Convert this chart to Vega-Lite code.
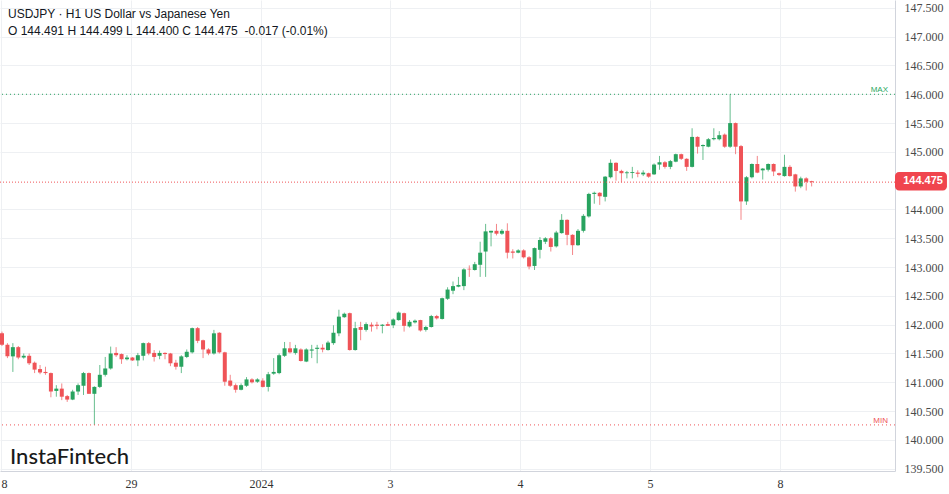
{
  "$schema": "https://vega.github.io/schema/vega-lite/v6.json",
  "width": 895,
  "height": 471,
  "autosize": {"type": "none"},
  "padding": {"left": 0, "top": 0, "right": 54, "bottom": 23},
  "background": "#ffffff",
  "config": {"view": {"stroke": null}, "font": "Liberation Sans"},
  "datasets": {
    "candles": [
      {"i":0,"o":141.85,"h":141.88,"l":141.63,"c":141.65},
      {"i":1,"o":141.65,"h":141.68,"l":141.42,"c":141.45},
      {"i":2,"o":141.45,"h":141.68,"l":141.18,"c":141.61},
      {"i":3,"o":141.61,"h":141.63,"l":141.40,"c":141.43},
      {"i":4,"o":141.43,"h":141.50,"l":141.41,"c":141.46},
      {"i":5,"o":141.46,"h":141.50,"l":141.30,"c":141.33},
      {"i":6,"o":141.34,"h":141.36,"l":141.16,"c":141.22},
      {"i":7,"o":141.23,"h":141.30,"l":141.14,"c":141.17},
      {"i":8,"o":141.18,"h":141.27,"l":141.13,"c":141.16},
      {"i":9,"o":141.16,"h":141.17,"l":140.74,"c":140.84},
      {"i":10,"o":140.85,"h":140.95,"l":140.75,"c":140.89},
      {"i":11,"o":140.89,"h":140.98,"l":140.69,"c":140.75},
      {"i":12,"o":140.76,"h":140.78,"l":140.66,"c":140.70},
      {"i":13,"o":140.70,"h":140.87,"l":140.69,"c":140.84},
      {"i":14,"o":140.84,"h":140.98,"l":140.78,"c":140.95},
      {"i":15,"o":140.94,"h":141.18,"l":140.78,"c":141.16},
      {"i":16,"o":141.16,"h":141.17,"l":140.80,"c":140.80},
      {"i":17,"o":140.80,"h":140.93,"l":140.26,"c":140.92},
      {"i":18,"o":140.92,"h":141.30,"l":140.90,"c":141.13},
      {"i":19,"o":141.13,"h":141.44,"l":141.10,"c":141.24},
      {"i":20,"o":141.24,"h":141.62,"l":141.22,"c":141.50},
      {"i":21,"o":141.51,"h":141.61,"l":141.44,"c":141.47},
      {"i":22,"o":141.49,"h":141.50,"l":141.32,"c":141.40},
      {"i":23,"o":141.40,"h":141.47,"l":141.38,"c":141.43},
      {"i":24,"o":141.43,"h":141.44,"l":141.37,"c":141.38},
      {"i":25,"o":141.38,"h":141.51,"l":141.28,"c":141.47},
      {"i":26,"o":141.46,"h":141.69,"l":141.38,"c":141.68},
      {"i":27,"o":141.68,"h":141.70,"l":141.47,"c":141.50},
      {"i":28,"o":141.51,"h":141.56,"l":141.36,"c":141.44},
      {"i":29,"o":141.46,"h":141.55,"l":141.40,"c":141.51},
      {"i":30,"o":141.51,"h":141.52,"l":141.40,"c":141.49},
      {"i":31,"o":141.50,"h":141.51,"l":141.28,"c":141.33},
      {"i":32,"o":141.34,"h":141.39,"l":141.22,"c":141.27},
      {"i":33,"o":141.27,"h":141.47,"l":141.16,"c":141.45},
      {"i":34,"o":141.44,"h":141.57,"l":141.42,"c":141.53},
      {"i":35,"o":141.52,"h":141.95,"l":141.50,"c":141.94},
      {"i":36,"o":141.94,"h":141.96,"l":141.68,"c":141.72},
      {"i":37,"o":141.73,"h":141.74,"l":141.42,"c":141.57},
      {"i":38,"o":141.57,"h":141.59,"l":141.47,"c":141.50},
      {"i":39,"o":141.50,"h":141.91,"l":141.48,"c":141.85},
      {"i":40,"o":141.86,"h":141.87,"l":141.50,"c":141.52},
      {"i":41,"o":141.52,"h":141.53,"l":140.94,"c":141.01},
      {"i":42,"o":141.03,"h":141.13,"l":140.92,"c":140.94},
      {"i":43,"o":140.95,"h":140.98,"l":140.82,"c":140.87},
      {"i":44,"o":140.87,"h":140.98,"l":140.86,"c":140.95},
      {"i":45,"o":140.94,"h":141.09,"l":140.92,"c":141.05},
      {"i":46,"o":141.05,"h":141.07,"l":140.98,"c":141.00},
      {"i":47,"o":141.01,"h":141.07,"l":140.99,"c":141.05},
      {"i":48,"o":141.03,"h":141.07,"l":140.91,"c":140.92},
      {"i":49,"o":140.92,"h":141.18,"l":140.84,"c":141.14},
      {"i":50,"o":141.15,"h":141.42,"l":141.13,"c":141.18},
      {"i":51,"o":141.16,"h":141.50,"l":141.14,"c":141.47},
      {"i":52,"o":141.46,"h":141.70,"l":141.44,"c":141.59},
      {"i":53,"o":141.59,"h":141.70,"l":141.50,"c":141.52},
      {"i":54,"o":141.51,"h":141.65,"l":141.48,"c":141.59},
      {"i":55,"o":141.57,"h":141.59,"l":141.36,"c":141.37},
      {"i":56,"o":141.36,"h":141.59,"l":141.35,"c":141.57},
      {"i":57,"o":141.55,"h":141.65,"l":141.42,"c":141.57},
      {"i":58,"o":141.58,"h":141.65,"l":141.33,"c":141.60},
      {"i":59,"o":141.60,"h":141.66,"l":141.52,"c":141.57},
      {"i":60,"o":141.56,"h":141.72,"l":141.55,"c":141.69},
      {"i":61,"o":141.68,"h":141.99,"l":141.65,"c":141.86},
      {"i":62,"o":141.85,"h":142.26,"l":141.80,"c":142.14},
      {"i":63,"o":142.13,"h":142.21,"l":142.12,"c":142.19},
      {"i":64,"o":142.20,"h":142.21,"l":141.55,"c":141.56},
      {"i":65,"o":141.56,"h":142.05,"l":141.55,"c":141.94},
      {"i":66,"o":141.96,"h":142.05,"l":141.73,"c":141.91},
      {"i":67,"o":141.91,"h":142.04,"l":141.88,"c":142.01},
      {"i":68,"o":142.00,"h":142.04,"l":141.88,"c":141.97},
      {"i":69,"o":142.00,"h":142.05,"l":141.92,"c":141.98},
      {"i":70,"o":141.98,"h":142.01,"l":141.85,"c":142.00},
      {"i":71,"o":142.01,"h":142.05,"l":141.98,"c":141.98},
      {"i":72,"o":141.99,"h":142.11,"l":141.94,"c":142.09},
      {"i":73,"o":142.08,"h":142.23,"l":142.07,"c":142.21},
      {"i":74,"o":142.20,"h":142.21,"l":141.88,"c":141.98},
      {"i":75,"o":141.97,"h":142.08,"l":141.95,"c":142.05},
      {"i":76,"o":142.04,"h":142.09,"l":142.02,"c":142.07},
      {"i":77,"o":142.08,"h":142.085,"l":141.88,"c":141.90},
      {"i":78,"o":141.91,"h":141.98,"l":141.88,"c":141.96},
      {"i":79,"o":141.96,"h":142.17,"l":141.95,"c":142.15},
      {"i":80,"o":142.15,"h":142.17,"l":142.09,"c":142.11},
      {"i":81,"o":142.10,"h":142.47,"l":142.09,"c":142.46},
      {"i":82,"o":142.45,"h":142.65,"l":142.43,"c":142.61},
      {"i":83,"o":142.59,"h":142.75,"l":142.53,"c":142.67},
      {"i":84,"o":142.66,"h":142.83,"l":142.65,"c":142.69},
      {"i":85,"o":142.67,"h":142.98,"l":142.60,"c":142.96},
      {"i":86,"o":142.97,"h":143.03,"l":142.83,"c":142.96},
      {"i":87,"o":142.95,"h":143.09,"l":142.94,"c":143.05},
      {"i":88,"o":143.04,"h":143.44,"l":142.83,"c":143.25},
      {"i":89,"o":143.27,"h":143.75,"l":142.83,"c":143.62},
      {"i":90,"o":143.60,"h":143.63,"l":143.36,"c":143.63},
      {"i":91,"o":143.63,"h":143.75,"l":143.55,"c":143.58},
      {"i":92,"o":143.58,"h":143.66,"l":143.56,"c":143.63},
      {"i":93,"o":143.63,"h":143.76,"l":143.15,"c":143.25},
      {"i":94,"o":143.27,"h":143.31,"l":143.15,"c":143.25},
      {"i":95,"o":143.25,"h":143.31,"l":143.24,"c":143.29},
      {"i":96,"o":143.29,"h":143.31,"l":143.15,"c":143.17},
      {"i":97,"o":143.17,"h":143.19,"l":142.96,"c":143.01},
      {"i":98,"o":143.02,"h":143.34,"l":142.95,"c":143.33},
      {"i":99,"o":143.30,"h":143.52,"l":143.15,"c":143.47},
      {"i":100,"o":143.44,"h":143.52,"l":143.40,"c":143.50},
      {"i":101,"o":143.50,"h":143.52,"l":143.27,"c":143.35},
      {"i":102,"o":143.36,"h":143.63,"l":143.34,"c":143.60},
      {"i":103,"o":143.59,"h":143.92,"l":143.58,"c":143.82},
      {"i":104,"o":143.82,"h":143.83,"l":143.38,"c":143.56},
      {"i":105,"o":143.56,"h":143.57,"l":143.21,"c":143.38},
      {"i":106,"o":143.38,"h":143.66,"l":143.37,"c":143.63},
      {"i":107,"o":143.63,"h":143.92,"l":143.60,"c":143.89},
      {"i":108,"o":143.88,"h":144.29,"l":143.86,"c":144.27},
      {"i":109,"o":144.27,"h":144.31,"l":144.10,"c":144.29},
      {"i":110,"o":144.29,"h":144.30,"l":144.08,"c":144.23},
      {"i":111,"o":144.22,"h":144.58,"l":144.14,"c":144.57},
      {"i":112,"o":144.56,"h":144.87,"l":144.54,"c":144.81},
      {"i":113,"o":144.81,"h":144.82,"l":144.50,"c":144.67},
      {"i":114,"o":144.67,"h":144.69,"l":144.47,"c":144.63},
      {"i":115,"o":144.63,"h":144.67,"l":144.54,"c":144.645},
      {"i":116,"o":144.635,"h":144.74,"l":144.54,"c":144.65},
      {"i":117,"o":144.64,"h":144.68,"l":144.56,"c":144.62},
      {"i":118,"o":144.61,"h":144.68,"l":144.58,"c":144.64},
      {"i":119,"o":144.63,"h":144.64,"l":144.55,"c":144.57},
      {"i":120,"o":144.61,"h":144.80,"l":144.60,"c":144.78},
      {"i":121,"o":144.78,"h":144.93,"l":144.69,"c":144.82},
      {"i":122,"o":144.82,"h":144.84,"l":144.71,"c":144.74},
      {"i":123,"o":144.74,"h":144.86,"l":144.70,"c":144.84},
      {"i":124,"o":144.83,"h":144.97,"l":144.82,"c":144.96},
      {"i":125,"o":144.96,"h":144.97,"l":144.86,"c":144.88},
      {"i":126,"o":144.88,"h":144.89,"l":144.67,"c":144.74},
      {"i":127,"o":144.74,"h":145.41,"l":144.73,"c":145.26},
      {"i":128,"o":145.26,"h":145.27,"l":144.97,"c":145.09},
      {"i":129,"o":145.10,"h":145.13,"l":144.86,"c":145.12},
      {"i":130,"o":145.09,"h":145.24,"l":145.08,"c":145.22},
      {"i":131,"o":145.22,"h":145.41,"l":145.20,"c":145.24},
      {"i":132,"o":145.22,"h":145.36,"l":145.20,"c":145.29},
      {"i":133,"o":145.30,"h":145.32,"l":145.07,"c":145.09},
      {"i":134,"o":145.09,"h":146.00,"l":145.07,"c":145.50},
      {"i":135,"o":145.50,"h":145.51,"l":144.96,"c":145.09},
      {"i":136,"o":145.10,"h":145.12,"l":143.82,"c":144.14},
      {"i":137,"o":144.14,"h":144.58,"l":144.08,"c":144.56},
      {"i":138,"o":144.56,"h":144.80,"l":144.54,"c":144.79},
      {"i":139,"o":144.79,"h":144.93,"l":144.63,"c":144.64},
      {"i":140,"o":144.68,"h":144.72,"l":144.52,"c":144.71},
      {"i":141,"o":144.69,"h":144.80,"l":144.66,"c":144.79},
      {"i":142,"o":144.79,"h":144.80,"l":144.58,"c":144.66},
      {"i":143,"o":144.63,"h":144.64,"l":144.58,"c":144.60},
      {"i":144,"o":144.58,"h":144.95,"l":144.57,"c":144.74},
      {"i":145,"o":144.74,"h":144.77,"l":144.57,"c":144.58},
      {"i":146,"o":144.61,"h":144.62,"l":144.31,"c":144.40},
      {"i":147,"o":144.40,"h":144.57,"l":144.37,"c":144.54},
      {"i":148,"o":144.54,"h":144.56,"l":144.33,"c":144.48},
      {"i":149,"o":144.491,"h":144.499,"l":144.400,"c":144.475}
    ]
  },
  "layer": [
    {
      "data": {"name": "candles"},
      "mark": {"type": "rule", "strokeWidth": 1, "opacity": 0.7, "clip": true},
      "encoding": {
        "x": {
          "field": "i", "type": "quantitative",
          "scale": {"domain": [-0.368, 164.34], "nice": false, "zero": false, "padding": 0},
          "axis": {
            "title": null,
            "values": [-0.184, 23.74, 47.66, 71.4, 95.33, 119.25, 143.17],
            "tickCount": 30,
            "labelExpr": "datum.value < 10 ? '8' : datum.value < 30 ? '29' : datum.value < 60 ? '2024' : datum.value < 80 ? '3' : datum.value < 100 ? '4' : datum.value < 130 ? '5' : '8'",
            "labelAlign": {"condition": {"test": "datum.value < 10", "value": "left"}, "value": "center"},
            "grid": true, "gridColor": "#eef0f3", "gridWidth": 1,
            "ticks": false, "tickSize": 0,
            "domain": true, "domainColor": "#d1d4dc",
            "labelFlush": false, "labelOverlap": false, "labelBound": false,
            "labelFont": "Liberation Sans Narrow", "labelFontSize": 12, "labelColor": "#333333",
            "labelPadding": 7
          }
        },
        "y": {
          "field": "l", "type": "quantitative",
          "scale": {"domain": [139.46, 147.637], "nice": false, "zero": false},
          "axis": {
            "title": null, "orient": "right",
            "values": [139.5, 140, 140.5, 141, 141.5, 142, 142.5, 143, 143.5, 144, 145, 145.5, 146, 146.5, 147, 147.5],
            "tickCount": 40,
            "format": ".3f",
            "grid": true, "gridColor": "#eef0f3", "gridWidth": 1,
            "ticks": false, "tickSize": 0,
            "domain": true, "domainColor": "#d1d4dc",
            "labelFont": "Liberation Sans Narrow", "labelFontSize": 12, "labelColor": "#4a4a4a",
            "labelPadding": 9, "labelFlush": false, "labelOverlap": false, "labelBound": false
          }
        },
        "y2": {"field": "h"},
        "color": {"condition": {"test": "datum.c >= datum.o", "value": "#28a35f"}, "value": "#ef5357"}
      }
    },
    {
      "data": {"name": "candles"},
      "mark": {"type": "bar", "width": 4, "clip": true},
      "encoding": {
        "x": {"field": "i", "type": "quantitative", "scale": {"domain": [-0.368, 164.34], "nice": false, "zero": false, "padding": 0}},
        "y": {"field": "o", "type": "quantitative", "scale": {"domain": [139.46, 147.637], "nice": false, "zero": false}},
        "y2": {"field": "c"},
        "color": {"condition": {"test": "datum.c >= datum.o", "value": "#28a35f"}, "value": "#ef5357"}
      }
    },
    {
      "data": {"values": [{}]},
      "mark": {"type": "rule", "color": "#ef5357", "strokeWidth": 1, "strokeDash": [1, 2]},
      "encoding": {
        "y": {"datum": 144.475, "type": "quantitative", "scale": {"domain": [139.46, 147.637], "nice": false, "zero": false}}
      }
    },
    {
      "data": {"values": [{}]},
      "mark": {"type": "rule", "color": "#28a35f", "strokeWidth": 1, "strokeDash": [1, 3]},
      "encoding": {
        "y": {"datum": 146.0, "type": "quantitative", "scale": {"domain": [139.46, 147.637], "nice": false, "zero": false}}
      }
    },
    {
      "data": {"values": [{}]},
      "mark": {"type": "rule", "color": "#ef5357", "strokeWidth": 1, "strokeDash": [1, 3]},
      "encoding": {
        "y": {"datum": 140.26, "type": "quantitative", "scale": {"domain": [139.46, 147.637], "nice": false, "zero": false}}
      }
    },
    {
      "data": {"values": [{}]},
      "mark": {"type": "text", "text": "MAX", "align": "right", "baseline": "alphabetic", "dy": -2, "fontSize": 8, "font": "Liberation Sans", "color": "#2aa862"},
      "encoding": {
        "x": {"datum": 163.05, "type": "quantitative", "scale": {"domain": [-0.368, 164.34], "nice": false, "zero": false, "padding": 0}},
        "y": {"datum": 146.0, "type": "quantitative", "scale": {"domain": [139.46, 147.637], "nice": false, "zero": false}}
      }
    },
    {
      "data": {"values": [{}]},
      "mark": {"type": "text", "text": "MIN", "align": "right", "baseline": "alphabetic", "dy": -2, "fontSize": 8, "font": "Liberation Sans", "color": "#ef5357"},
      "encoding": {
        "x": {"datum": 163.05, "type": "quantitative", "scale": {"domain": [-0.368, 164.34], "nice": false, "zero": false, "padding": 0}},
        "y": {"datum": 140.26, "type": "quantitative", "scale": {"domain": [139.46, 147.637], "nice": false, "zero": false}}
      }
    },
    {
      "data": {"values": [{}]},
      "mark": {"type": "rect", "color": "#f0454e", "cornerRadius": 4},
      "encoding": {
        "x": {"datum": 164.34, "type": "quantitative", "scale": {"domain": [-0.368, 164.34], "nice": false, "zero": false, "padding": 0}},
        "x2": {"datum": 173.9},
        "y": {"datum": 144.65, "type": "quantitative", "scale": {"domain": [139.46, 147.637], "nice": false, "zero": false}},
        "y2": {"datum": 144.33}
      }
    },
    {
      "data": {"values": [{}]},
      "mark": {"type": "text", "text": "144.475", "align": "center", "baseline": "middle", "fontSize": 11, "fontWeight": "bold", "font": "Liberation Sans", "color": "#ffffff"},
      "encoding": {
        "x": {"datum": 169.5, "type": "quantitative", "scale": {"domain": [-0.368, 164.34], "nice": false, "zero": false, "padding": 0}},
        "y": {"datum": 144.49, "type": "quantitative", "scale": {"domain": [139.46, 147.637], "nice": false, "zero": false}}
      }
    },
    {
      "data": {"values": [{}]},
      "mark": {"type": "text", "text": "USDJPY · H1 US Dollar vs Japanese Yen", "align": "left", "baseline": "middle", "fontSize": 12, "font": "Liberation Sans", "color": "#131722"},
      "encoding": {
        "x": {"datum": 1.104, "type": "quantitative", "scale": {"domain": [-0.368, 164.34], "nice": false, "zero": false, "padding": 0}},
        "y": {"datum": 147.40, "type": "quantitative", "scale": {"domain": [139.46, 147.637], "nice": false, "zero": false}}
      }
    },
    {
      "data": {"values": [{}]},
      "mark": {"type": "text", "text": "O 144.491 H 144.499 L 144.400 C 144.475\u00a0 -0.017 (-0.01%)", "align": "left", "baseline": "middle", "fontSize": 12, "font": "Liberation Sans", "color": "#131722"},
      "encoding": {
        "x": {"datum": 1.104, "type": "quantitative", "scale": {"domain": [-0.368, 164.34], "nice": false, "zero": false, "padding": 0}},
        "y": {"datum": 147.10, "type": "quantitative", "scale": {"domain": [139.46, 147.637], "nice": false, "zero": false}}
      }
    },
    {
      "data": {"values": [{}]},
      "mark": {"type": "text", "text": "InstaFintech", "align": "left", "baseline": "middle", "fontSize": 22, "fontWeight": 500, "font": "Lato", "color": "#1a1a1a"},
      "encoding": {
        "x": {"datum": 1.472, "type": "quantitative", "scale": {"domain": [-0.368, 164.34], "nice": false, "zero": false, "padding": 0}},
        "y": {"datum": 139.703, "type": "quantitative", "scale": {"domain": [139.46, 147.637], "nice": false, "zero": false}}
      }
    }
  ]
}
